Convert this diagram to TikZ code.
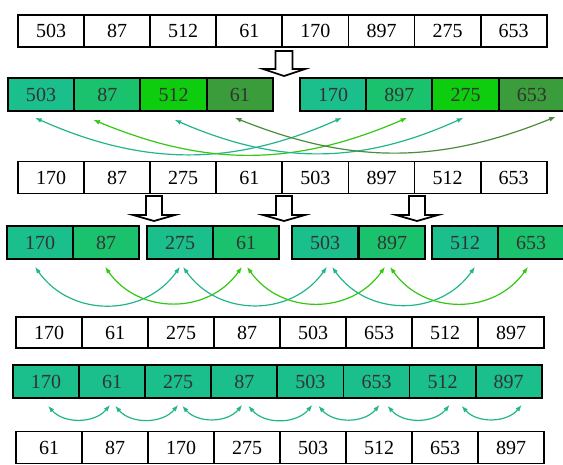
\documentclass[tikz,border=0pt]{standalone}
\usepackage{fontspec}
\setmainfont{Liberation Serif}
\usetikzlibrary{arrows.meta,calc}

\definecolor{cteal}{RGB}{26,191,140}
\definecolor{cgreen}{RGB}{27,194,110}
\definecolor{cbright}{RGB}{14,204,14}
\definecolor{cdark}{RGB}{58,156,58}
\definecolor{ateal}{RGB}{34,180,140}
\definecolor{agreen}{RGB}{50,200,20}
\definecolor{adark}{RGB}{75,140,60}

\tikzset{
  cell/.style={draw, line width=1.3pt, minimum width=49.6pt, minimum height=24pt, inner sep=0pt, font=\fontsize{15}{18}\selectfont},
  gcell/.style={cell, minimum height=24.6pt, text=black!80},
  swap/.style={{Latex[length=5pt,width=3.6pt]}-{Latex[length=5pt,width=3.6pt]}, line width=0.9pt},
  blkarrow/.style={draw, line width=1.3pt, fill=white, line join=miter},
}

\begin{document}
\begin{tikzpicture}[x=0.75pt,y=0.75pt,yscale=-1,xscale=1]
  \useasboundingbox (0,0) rectangle (563,464);

  % unsorted input
  \foreach \v [count=\i] in {503,87,512,61,170,897,275,653}
    \node[cell] (a\i) at ({51+66.1*(\i-1)},31) {\v};

  % down arrow
  \coordinate (d0) at (284,51);
  \draw[blkarrow] (d0) ++(-8.5,0) -- ++(17,0) -- ++(0,18) -- ++(12.5,0) -- ++(-21,7) -- ++(-21,-7) -- ++(12.5,0) -- cycle;

  % gap 4: two halves
  \foreach \v/\c [count=\i] in {503/cteal,87/cgreen,512/cbright,61/cdark}
    \node[gcell,fill=\c] (b\i) at ({41+66.25*(\i-1)},94.5) {\v};
  \foreach \v/\c [count=\i from 5] in {170/cteal,897/cgreen,275/cbright,653/cdark}
    \node[gcell,fill=\c] (b\i) at ({333+66.25*(\i-5)},94.5) {\v};

  % (yscale=-1, so "bend left" sags downwards)
  \draw[swap,ateal]  ($(b1.south)+(-6,6)$)  to[bend left=24] ($(b5.south)+(9,6)$);
  \draw[swap,agreen] ($(b2.south)+(-14,8)$) to[bend left=23] ($(b6.south)+(8,6)$);
  \draw[swap,ateal]  ($(b3.south)+(1,8)$)   to[bend left=24] ($(b7.south)+(-2,6)$);
  \draw[swap,adark]  ($(b4.south)+(-5,6)$)  to[bend left=22] ($(b8.south)+(24,5)$);

  % after gap 4
  \foreach \v [count=\i] in {170,87,275,61,503,897,512,653}
    \node[cell] (c\i) at ({51+66.1*(\i-1)},177.5) {\v};

  \foreach \x [count=\i] in {154,284,417}{
    \coordinate (d\i) at (\x,196);
    \draw[blkarrow] (d\i) ++(-8,0) -- ++(16,0) -- ++(0,19) -- ++(13,0) -- ++(-21,6) -- ++(-21,-6) -- ++(13,0) -- cycle;
  }

  % gap 2: four groups
  \foreach \v/\x/\c [count=\i] in {170/40/cteal,87/106/cgreen,275/180/cteal,61/246/cgreen,503/325/cteal,897/392/cgreen,512/465/cteal,653/531/cgreen}
    \node[gcell,fill=\c] (g\i) at (\x,242.5) {\v};

  \foreach \i/\j/\p/\q/\c in {1/3/-5/0/ateal,2/4/-1/-4/agreen,3/5/3/2/ateal,4/6/1/-7/agreen,5/7/7/10/ateal,6/8/-2/-3/agreen}
    \draw[swap,\c] ($(g\i.south)+(\p,7)$) to[bend left=55,looseness=1.1] ($(g\j.south)+(\q,7)$);

  % after gap 2
  \foreach \v [count=\i] in {170,61,275,87,503,653,512,897}
    \node[cell,minimum height=23.5pt] (e\i) at ({49+66*(\i-1)},332.5) {\v};

  % gap 1
  \foreach \v [count=\i] in {170,61,275,87,503,653,512,897}
    \node[gcell,fill=cteal] (f\i) at ({46+66.1*(\i-1)},381.5) {\v};

  \foreach \i/\j/\p/\q in {1/2/2/-2,2/3/3/0,3/4/4/-2,4/5/4/2,5/6/8/3,6/7/11/7,7/8/19/13}
    \draw[swap,ateal] ($(f\i.south)+(\p,7)$) to[bend left=50] ($(f\j.south)+(\q,6)$);

  % sorted
  \foreach \v [count=\i] in {61,87,170,275,503,512,653,897}
    \node[cell] (h\i) at ({49+66*(\i-1)},447.5) {\v};
\end{tikzpicture}
\end{document}
